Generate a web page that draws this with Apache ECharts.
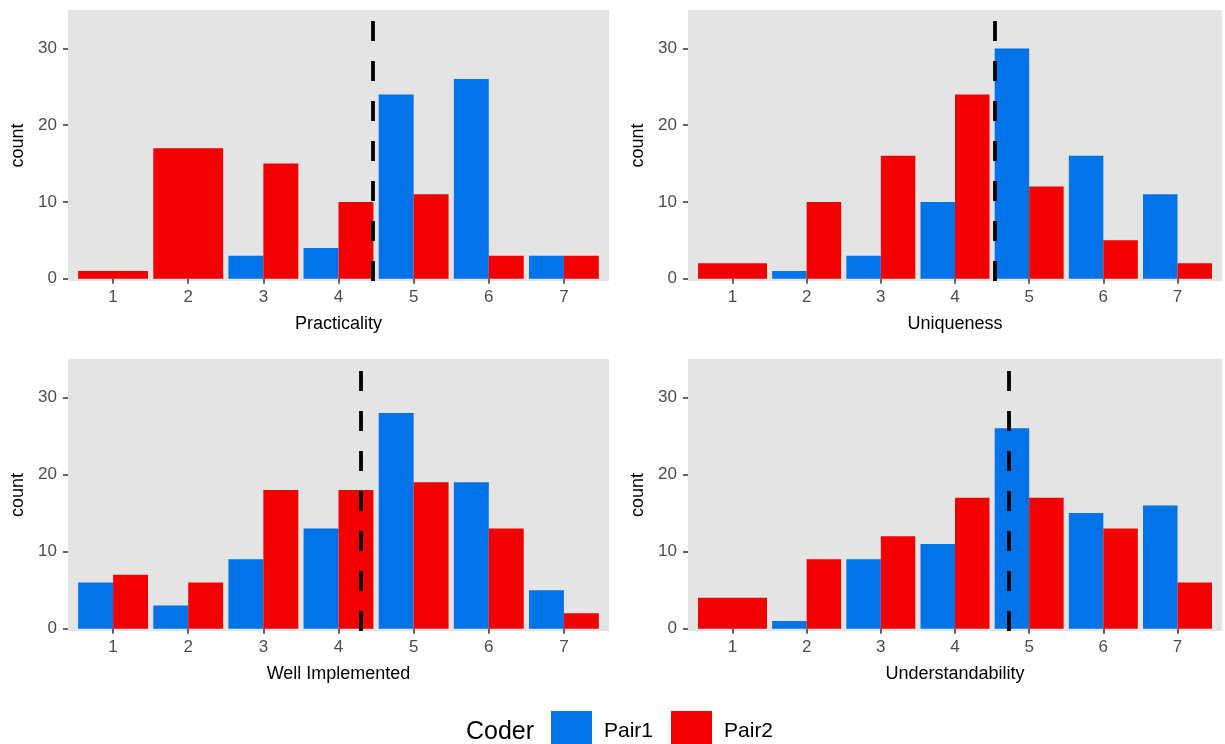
<!DOCTYPE html>
<html>
<head>
<meta charset="utf-8">
<script src="https://cdn.jsdelivr.net/npm/echarts@6/dist/echarts.min.js"></script>
<style>
html,body{margin:0;padding:0;background:#fff;}
#chart{width:1225px;height:744px;}
</style>
</head>
<body>
<div id="chart"></div>
<script>
// ---- data ----
var scores = [1, 2, 3, 4, 5, 6, 7];
var panelTitles = ['Practicality', 'Uniqueness', 'Well Implemented', 'Understandability'];
var practicalityPair1 = [0, 0, 3, 4, 24, 26, 3];
var practicalityPair2 = [1, 17, 15, 10, 11, 3, 3];
var uniquenessPair1 = [0, 1, 3, 10, 30, 16, 11];
var uniquenessPair2 = [2, 10, 16, 24, 12, 5, 2];
var wellImplementedPair1 = [6, 3, 9, 13, 28, 19, 5];
var wellImplementedPair2 = [7, 6, 18, 18, 19, 13, 2];
var understandabilityPair1 = [0, 1, 9, 11, 26, 15, 16];
var understandabilityPair2 = [4, 9, 12, 17, 17, 13, 6];
var meanLines = [4.46, 4.53, 4.29, 4.73];
var yTicks = [0, 10, 20, 30];
var coderNames = ['Pair1', 'Pair2'];

var pair1Data = [practicalityPair1, uniquenessPair1, wellImplementedPair1, understandabilityPair1];
var pair2Data = [practicalityPair2, uniquenessPair2, wellImplementedPair2, understandabilityPair2];

var colors = {Pair1: '#0073E6', Pair2: '#F20000'};
var font = '"Liberation Sans", Arial, Helvetica, sans-serif';

var grids = [
  {left: 68, top: 10, width: 541, height: 271},
  {left: 688, top: 10, width: 534, height: 271},
  {left: 68, top: 359, width: 541, height: 272},
  {left: 688, top: 359, width: 534, height: 272}
];

var HALF = 0.465;
function makeRender(name) {
  return function (params, api) {
    var x = api.value(0), y = api.value(1), other = api.value(2);
    if (!y) return null;
    var x0, x1;
    if (!other) { x0 = x - HALF; x1 = x + HALF; }
    else if (name === 'Pair1') { x0 = x - HALF; x1 = x; }
    else { x0 = x; x1 = x + HALF; }
    var p0 = api.coord([x0, 0]);
    var p1 = api.coord([x1, y]);
    return {
      type: 'rect',
      shape: {x: p0[0], y: p1[1], width: p1[0] - p0[0], height: p0[1] - p1[1]},
      style: {fill: colors[name]}
    };
  };
}

var option = {
  animation: false,
  backgroundColor: '#ffffff',
  textStyle: {fontFamily: font},
  grid: grids.map(function (g) {
    return Object.assign({show: true, backgroundColor: '#E4E4E4', borderWidth: 0, containLabel: false}, g);
  }),
  xAxis: grids.map(function (g, i) {
    return {
      type: 'value', gridIndex: i, min: 0.4, max: 7.6,
      name: panelTitles[i], nameLocation: 'middle', nameGap: 34,
      nameTextStyle: {color: '#000', fontSize: 18, fontFamily: font},
      axisLine: {show: false},
      axisTick: {show: true, customValues: scores, length: 5, lineStyle: {color: '#333', width: 1.5}},
      axisLabel: {customValues: scores, color: '#4D4D4D', fontSize: 17, margin: 8, fontFamily: font},
      splitLine: {show: false}
    };
  }),
  yAxis: grids.map(function (g, i) {
    return {
      type: 'value', gridIndex: i, min: -0.3, max: 35,
      name: 'count', nameLocation: 'middle', nameGap: 41, nameRotate: 90,
      nameTextStyle: {color: '#000', fontSize: 18, fontFamily: font},
      axisLine: {show: false},
      axisTick: {show: true, customValues: yTicks, length: 5, lineStyle: {color: '#333', width: 1.5}},
      axisLabel: {customValues: yTicks, color: '#4D4D4D', fontSize: 17, margin: 11, fontFamily: font},
      splitLine: {show: false}
    };
  }),
  legend: {
    data: coderNames,
    left: 551, top: 711, padding: 0,
    itemWidth: 41, itemHeight: 40, itemGap: 18,
    icon: 'rect',
    textStyle: {fontSize: 21, color: '#000', fontFamily: font, padding: [0, 0, 0, 7]}
  },
  graphic: [{
    type: 'text', left: 466, top: 720,
    style: {text: 'Coder', fontSize: 25, fill: '#000', fontFamily: font}
  }],
  series: []
};

for (var p = 0; p < 4; p++) {
  var d1 = scores.map(function (s, k) { return [s, pair1Data[p][k], pair2Data[p][k]]; });
  var d2 = scores.map(function (s, k) { return [s, pair2Data[p][k], pair1Data[p][k]]; });
  option.series.push({
    type: 'custom', name: 'Pair1', xAxisIndex: p, yAxisIndex: p,
    itemStyle: {color: colors.Pair1}, renderItem: makeRender('Pair1'), data: d1, z: 2
  });
  option.series.push({
    type: 'custom', name: 'Pair2', xAxisIndex: p, yAxisIndex: p,
    itemStyle: {color: colors.Pair2}, renderItem: makeRender('Pair2'), data: d2, z: 2
  });
  option.series.push({
    type: 'line', name: 'mean' + p, xAxisIndex: p, yAxisIndex: p, data: [], z: 5, silent: true,
    markLine: {
      silent: true, symbol: ['none', 'none'], label: {show: false},
      lineStyle: {color: '#000', width: 3.8, type: [20, 20]},
      data: [{xAxis: meanLines[p]}]
    }
  });
}

var chart = echarts.init(document.getElementById('chart'), null, {renderer: 'canvas'});
chart.setOption(option);
</script>
</body>
</html>
